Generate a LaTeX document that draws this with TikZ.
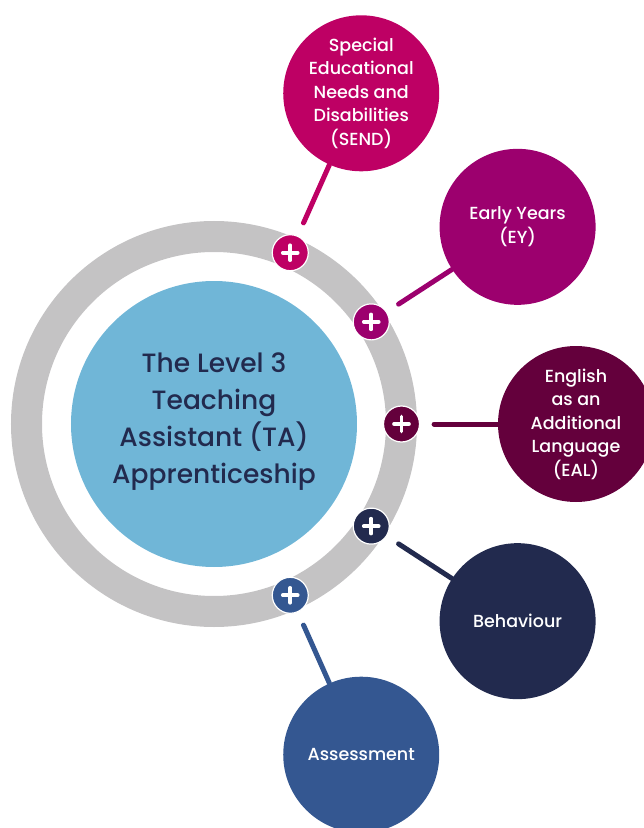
\documentclass[tikz,border=0pt]{standalone}
\usepackage{fontspec}
\setmainfont{Poppins}[UprightFont={* Medium}]
\usetikzlibrary{calc}

\definecolor{sendcol}{HTML}{BE0064}
\definecolor{eycol}{HTML}{9C006E}
\definecolor{ealcol}{HTML}{64003C}
\definecolor{behcol}{HTML}{222A4E}
\definecolor{asscol}{HTML}{345791}
\definecolor{hubcol}{HTML}{70B6D7}
\definecolor{ringcol}{HTML}{C4C3C4}

\tikzset{
  topic/.style={circle, fill=#1, minimum size=156, inner sep=0,
    text=white, align=center, font=\fontsize{17.5}{23.5}\selectfont},
  plusbtn/.style={circle, fill=#1, draw=white, line width=1.2,
    minimum size=36, inner sep=0,
    path picture={
      \draw[white, line width=3.6, line cap=round]
        ($(path picture bounding box.center)+(-7.5pt,0pt)$) -- ++(15pt,0pt)
        ($(path picture bounding box.center)+(0pt,-7.5pt)$) -- ++(0pt,15pt);
    }},
  link/.style={draw=#1, line width=5, line cap=round, shorten <=14},
}

\begin{document}
\begin{tikzpicture}[x=1pt, y=1pt]
        % 画布范围
        \clip (-214,-404) rectangle (430,424);
        % 灰色圆环与中心圆
        \draw [ringcol, line width=31] (0,0) circle (187.5);
        \fill [hubcol] (0,0) circle (143);
        \node [align=center, text=behcol, font=\fontsize{26.5}{37}\selectfont] (hub) at (0,2)
            {The Level 3\\Teaching\\Assistant (TA)\\Apprenticeship};

        % 圆环上的加号
        \node [plusbtn=sendcol] (p1) at (66:187.5) {};
        \node [plusbtn=eycol]   (p2) at (33:187.5) {};
        \node [plusbtn=ealcol]  (p3) at (0:187.5) {};
        \node [plusbtn=behcol]  (p4) at (-33:187.5) {};
        \node [plusbtn=asscol]  (p5) at (-66:187.5) {};

        % 外圈的五个主题
        \node [topic=sendcol] (t1) at (66:362)
            {Special\\Educational\\Needs and\\Disabilities\\(SEND)};
        \node [topic=eycol]   (t2) at (33:362) {Early Years\\(EY)};
        \node [topic=ealcol]  (t3) at (0:362)
            {English\\as an\\Additional\\Language\\(EAL)};
        \node [topic=behcol]  (t4) at (-33:362) {Behaviour};
        \node [topic=asscol]  (t5) at (-66:362) {Assessment};

        % 连线
        \draw [link=sendcol] (p1) -- (t1);
        \draw [link=eycol]   (p2) -- (t2);
        \draw [link=ealcol]  (p3) -- (t3);
        \draw [link=behcol]  (p4) -- (t4);
        \draw [link=asscol]  (p5) -- (t5);
    \end{tikzpicture}
\end{document}
